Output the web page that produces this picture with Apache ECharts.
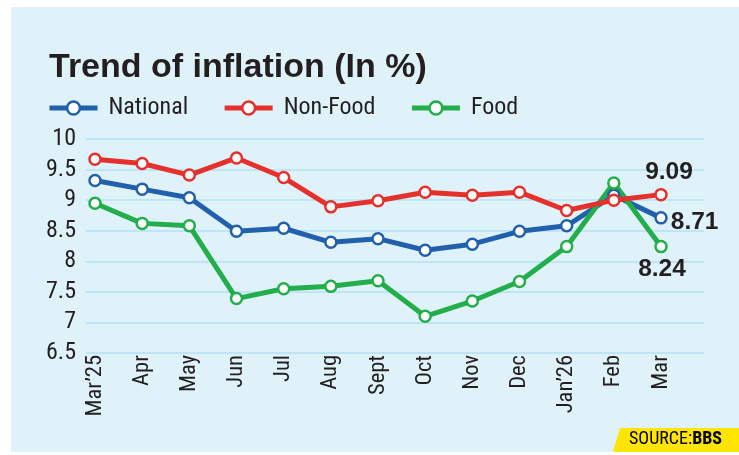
<!DOCTYPE html>
<html>
<head>
<meta charset="utf-8">
<title>Trend of inflation</title>
<script src="https://cdn.jsdelivr.net/npm/echarts@6/dist/echarts.min.js"></script>
<style>
  html, body { margin: 0; padding: 0; background: #ffffff; }
  #chart { width: 739px; height: 455px; }
</style>
</head>
<body>
<div id="chart"></div>
<script>
// data
const months = ['Mar\u201925', 'Apr', 'May', 'Jun', 'Jul', 'Aug', 'Sept', 'Oct', 'Nov', 'Dec', 'Jan\u201926', 'Feb', 'Mar'];
const national = [9.32, 9.18, 9.04, 8.49, 8.54, 8.31, 8.37, 8.18, 8.28, 8.49, 8.58, 9.08, 8.71];
const nonFood = [9.67, 9.60, 9.41, 9.69, 9.37, 8.89, 8.99, 9.13, 9.08, 9.13, 8.83, 9.00, 9.09];
const food = [8.95, 8.62, 8.58, 7.39, 7.55, 7.59, 7.68, 7.10, 7.35, 7.67, 8.24, 9.28, 8.24];
const yTicks = ['6.5', '7', '7.5', '8', '8.5', '9', '9.5', '10'];

const COND = "'Roboto Condensed', 'Liberation Sans Narrow', 'DejaVu Sans Condensed', 'Liberation Sans', Arial, sans-serif";
const BOLD = "'Liberation Sans', Arial, sans-serif";
const INK = '#231f20';

// pick a font size so a sample string is as wide as in the picture (no condensed font is guaranteed)
const measureCtx = document.createElement('canvas').getContext('2d');
function fitSize(text, family, weight, targetWidth, maxSize) {
    measureCtx.font = weight + ' 100px ' + family;
    const w = measureCtx.measureText(text).width;
    return Math.min(maxSize, Math.round(100 * targetWidth / w * 2) / 2);
}

const ySize = fitSize('9.5', COND, 'normal', 30, 25);
const xSize = fitSize('Mar\u201925', COND, 'normal', 62, 25);
const legendSize = fitSize('National', COND, 'normal', 82, 24);
const endSize = fitSize('9.09', BOLD, 'bold', 48, 27);
const titleSize = fitSize('Trend of inflation (In %)', BOLD, 'bold', 376, 36);
const sourceSize = fitSize('SOURCE:BBS', COND, 'bold', 95, 18);

// only the last point of each line gets a value label
function withEndLabel(values, label) {
    return values.map((v, i) => {
        if (i !== values.length - 1) return v;
        return { value: v, label: Object.assign({ show: true }, label) };
    });
}

const endLabelStyle = {
    color: INK,
    fontFamily: BOLD,
    fontWeight: 'bold',
    fontSize: endSize
};

function lineSeries(name, color, data) {
    return {
        name: name,
        type: 'line',
        xAxisIndex: 1,
        yAxisIndex: 1,
        data: data,
        symbol: 'circle',
        symbolSize: 11,
        lineStyle: { color: color, width: 5 },
        itemStyle: { color: '#ffffff', borderColor: color, borderWidth: 2.5 },
        emphasis: { disabled: true },
        animation: false
    };
}

const chart = echarts.init(document.getElementById('chart'));

const option = {
    animation: false,
    graphic: [
        {
            type: 'rect',
            z: -10,
            shape: { x: 11, y: 7, width: 728, height: 445 },
            style: { fill: '#dff2fa' }
        },
        {
            type: 'polygon',
            z: 10,
            shape: { points: [[620, 428], [739, 428], [739, 452], [613, 452]] },
            style: { fill: '#ffe500' }
        },
        {
            type: 'text',
            z: 11,
            left: 629,
            top: 430,
            style: {
                text: '{a|SOURCE:}{b|BBS}',
                rich: {
                    a: { fontFamily: COND, fontSize: sourceSize, color: INK },
                    b: { fontFamily: COND, fontSize: sourceSize, fontWeight: 'bold', color: INK }
                }
            }
        }
    ],
    title: {
        text: 'Trend of inflation (In %)',
        left: 49,
        top: 51,
        padding: 0,
        textStyle: {
            fontFamily: BOLD,
            fontWeight: 'bold',
            fontSize: titleSize,
            color: INK
        }
    },
    legend: {
        data: ['National', 'Non-Food', 'Food'],
        left: 47,
        top: 96,
        padding: 0,
        itemWidth: 48,
        itemHeight: 16,
        itemGap: 34,
        lineStyle: { width: 5 },
        itemStyle: { borderWidth: 2.5 },
        textStyle: {
            fontFamily: COND,
            fontSize: legendSize,
            color: INK,
            padding: [0, 0, 0, 6]
        }
    },
    grid: [
        { left: 86, right: 35, top: 139, bottom: 102 },
        { left: 95, right: 78, top: 139, bottom: 102 }
    ],
    xAxis: [
        { gridIndex: 0, type: 'value', show: false, min: 0, max: 1 },
        {
            gridIndex: 1,
            type: 'category',
            data: months,
            boundaryGap: false,
            axisLine: { show: false },
            axisTick: { show: false },
            axisLabel: {
                rotate: 90,
                margin: 2,
                interval: 0,
                fontFamily: COND,
                fontSize: xSize,
                color: INK
            }
        }
    ],
    yAxis: [
        {
            gridIndex: 0,
            type: 'value',
            min: 6.5,
            max: 10,
            interval: 0.5,
            axisLine: { show: false },
            axisTick: { show: false },
            axisLabel: {
                margin: 10,
                fontFamily: COND,
                fontSize: ySize,
                color: INK,
                formatter: (v) => yTicks[Math.round((v - 6.5) / 0.5)]
            },
            splitLine: { lineStyle: { color: '#b3e0f6', width: 1.5 } }
        },
        { gridIndex: 1, type: 'value', min: 6.5, max: 10, show: false }
    ],
    series: [
        lineSeries('National', '#2160ad', withEndLabel(national,
            Object.assign({ position: 'right', distance: 3, offset: [0, 4] }, endLabelStyle))),
        lineSeries('Food', '#22ae4b', withEndLabel(food,
            Object.assign({ position: 'bottom', distance: 3, offset: [1, 0] }, endLabelStyle))),
        lineSeries('Non-Food', '#e5302b', withEndLabel(nonFood,
            Object.assign({ position: 'top', distance: 3, offset: [8, 0] }, endLabelStyle)))
    ]
};

chart.setOption(option);
</script>
</body>
</html>
